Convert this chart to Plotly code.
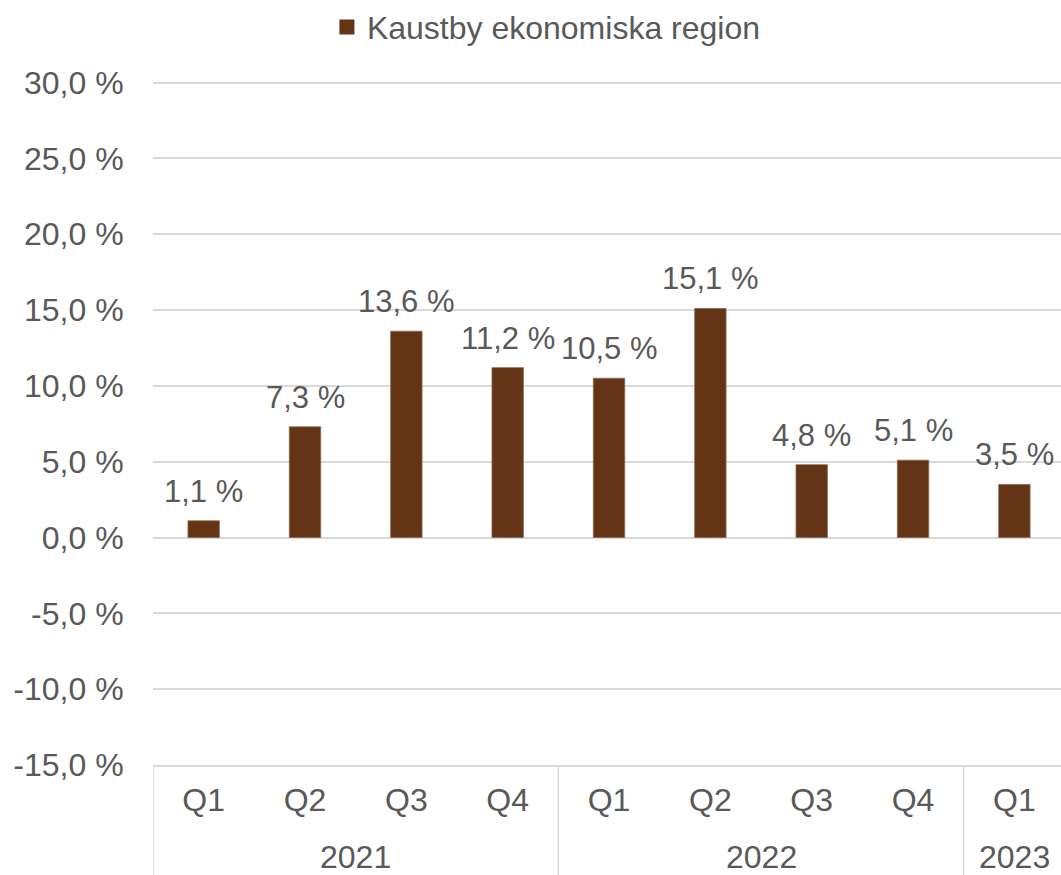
import plotly.graph_objects as go

years = ["2021", "2021", "2021", "2021", "2022", "2022", "2022", "2022", "2023"]
quarters = ["Q1", "Q2", "Q3", "Q4", "Q1", "Q2", "Q3", "Q4", "Q1"]
values = [1.1, 7.3, 13.6, 11.2, 10.5, 15.1, 4.8, 5.1, 3.5]
series_name = "Kaustby ekonomiska region"
y_ticks = [-15, -10, -5, 0, 5, 10, 15, 20, 25, 30]

FONT = "Liberation Sans, Arial, sans-serif"
TXT = "#595959"
BAR = "#633415"
GRID = "#d9d9d9"
W, H = 1061, 875
ML, MT, MB = 153, 80.5, 110
PH = H - MT - MB

def fmt(v):
    return f"{v:.1f}".replace(".", ",") + " %"

idx = list(range(len(values)))

fig = go.Figure()
fig.add_trace(go.Bar(
    x=idx, y=values, name=series_name, showlegend=False,
    marker=dict(color=BAR, line=dict(color="#8a6a52", width=0.8)),
    width=0.31, hoverinfo="skip",
))
# legend entry with a larger square swatch
fig.add_trace(go.Scatter(
    x=[None], y=[None], mode="markers", name=series_name,
    marker=dict(symbol="square", size=15, color=BAR),
))

for i, v in enumerate(values):
    fig.add_annotation(
        x=i, y=v, xref="x", yref="y",
        text=fmt(v), showarrow=False, yanchor="bottom", yshift=10,
        font=dict(family=FONT, size=31, color=TXT),
    )

# year group labels and dividers
groups = []
for i, yv in enumerate(years):
    if not groups or groups[-1][0] != yv:
        groups.append([yv, i, i])
    else:
        groups[-1][2] = i
for yv, a, b in groups:
    fig.add_annotation(
        x=(a + b) / 2, y=0, xref="x", yref="paper", text=yv, showarrow=False,
        yanchor="middle", yshift=-92, font=dict(family=FONT, size=32, color=TXT),
    )
    fig.add_shape(type="line", xref="x", yref="paper", x0=a - 0.5, x1=a - 0.5,
                  y0=0, y1=-(MB + 5) / PH, line=dict(color=GRID, width=1.5))

fig.update_layout(
    width=W, height=H,
    margin=dict(l=ML, r=0, t=MT, b=MB),
    paper_bgcolor="white", plot_bgcolor="white",
    font=dict(family=FONT, size=32, color=TXT),
    showlegend=True,
    legend=dict(orientation="h", xref="container", yref="container",
                x=0.515, xanchor="center", y=0.969, yanchor="middle",
                font=dict(size=32, color=TXT)),
)
fig.update_yaxes(
    range=[-15, 30.1], tickvals=y_ticks, ticktext=[fmt(t) for t in y_ticks],
    showgrid=True, gridcolor=GRID, gridwidth=1.5, zeroline=False,
    showline=False, ticks="outside", ticklen=22, tickcolor="rgba(0,0,0,0)",
    tickfont=dict(size=32, color=TXT), automargin=False,
)
fig.update_xaxes(
    range=[-0.5, 8.46], tickvals=idx, ticktext=quarters,
    showgrid=False, zeroline=False,
    showline=True, linecolor=GRID, linewidth=1.5,
    ticks="outside", ticklen=6, tickcolor="rgba(0,0,0,0)",
    tickfont=dict(size=32, color=TXT), automargin=False,
)

fig.write_html("out.html", config={"displayModeBar": False},
               post_script="document.body.style.margin='0';")
